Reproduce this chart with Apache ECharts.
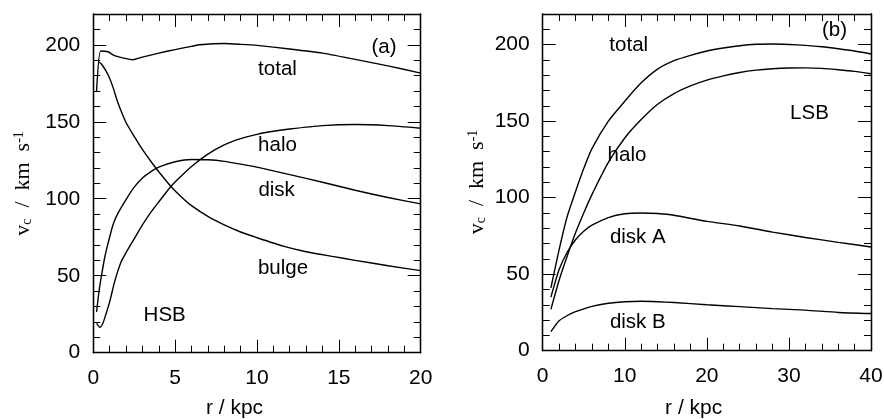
<!DOCTYPE html>
<html><head><meta charset="utf-8">
<script src="https://cdn.jsdelivr.net/npm/echarts@6/dist/echarts.min.js"></script>
<style>html,body{margin:0;padding:0;background:#fff}#c{width:884px;height:419px}</style>
</head><body><div id="c"></div>
<script>
// ---------- Panel (a): HSB, r in kpc ----------
const totalA_r = [0.2, 0.45, 0.9, 1.2, 1.5, 2, 2.4, 3, 4, 5, 6, 6.5, 8, 9, 10, 12, 14, 16, 18, 20];
const totalA_v = [170, 196, 195.5, 193.5, 192.3, 191, 190.3, 192, 194.6, 196.9, 199, 200, 200.8, 200.3, 199.6, 197.3, 194.6, 190.5, 186.3, 181.6];
const bulgeA_r = [0.3, 0.5, 0.9, 1.2, 1.5, 2, 2.5, 3, 3.5, 4, 4.7, 5.4, 6, 7, 8, 9, 10, 11.6, 13, 14.7, 16, 18, 20];
const bulgeA_v = [189, 187.5, 180.5, 172.5, 162.5, 149.5, 140.5, 132, 124.5, 117.5, 108.5, 101, 95.5, 88.5, 83, 78.4, 74.7, 69.2, 65.6, 62.4, 60, 56.5, 53.3];
const diskA_r = [0.2, 0.35, 0.5, 0.7, 0.9, 1.2, 1.5, 2, 2.5, 3, 3.5, 4, 5, 6, 7, 8, 9, 10, 12, 14, 16, 18, 20];
const diskA_v = [26.5, 40, 50, 62, 71, 83, 90.5, 99.5, 107.5, 113.5, 117.5, 120.5, 124, 125.5, 125.3, 124.3, 122.5, 120.5, 115.7, 110.7, 105.5, 100.8, 96.7];
const haloA_r = [0.2, 0.4, 0.6, 0.8, 1.0, 1.3, 1.7, 2.0, 2.5, 3.0, 3.5, 4.0, 4.7, 5.1, 6, 7, 8, 9, 10, 11, 12, 14, 16, 18, 20];
const haloA_v = [19, 16.5, 19.5, 26, 33, 46, 59, 65, 74, 83, 91, 98, 107.5, 112, 121, 129, 135, 139, 141.8, 143.8, 145.3, 147.5, 148.2, 147.5, 145.8];

// ---------- Panel (b): LSB ----------
const rB = [1, 2, 3, 4, 5, 6, 8, 10, 12, 14, 16, 18, 20, 22, 24, 26, 28, 30, 32, 34, 36, 38, 40];
const totalB_v = [41, 66, 88, 104, 119, 132, 150, 163, 175, 184, 189.5, 193, 195.8, 197.8, 199.3, 200.2, 200.4, 200.1, 199.5, 198.6, 197.3, 195.8, 193.9];
const haloB_v = [27, 46, 62, 77, 90, 102, 123, 139, 151, 161, 168, 173, 176.8, 179.6, 181.8, 183.3, 184.2, 184.7, 184.8, 184.5, 183.6, 182.5, 181];
const diskAB_r = [1, 2, 3, 4, 5, 6, 8, 10, 12, 14, 16, 20, 24, 28, 32, 36, 40];
const diskAB_v = [35, 53, 64.5, 72.5, 78, 82, 87, 89.5, 90, 89.6, 88.5, 84.5, 81.5, 77.5, 74, 70.8, 67.8];
const diskBB_r = [1, 2, 3, 4, 6, 8, 10, 12, 14, 16, 20, 24, 28, 32, 36, 40];
const diskBB_v = [12.4, 19.5, 23, 25.5, 29, 31, 32, 32.3, 32, 31.5, 30, 28.8, 27.5, 26.5, 25, 24.3];

// ---------- axis ranges / ticks ----------
const xMaxA = 20, xStepA = 5;
const xMaxB = 40, xStepB = 10;
const yMax = 220, yStep = 50, yMinorStep = 10;

// ---------- text labels (panel, text, r, v) ----------
const labelPanel = [0, 0, 0, 0, 0, 0, 1, 1, 1, 1, 1, 1];
const labelText = ['(a)', 'total', 'halo', 'disk', 'bulge', 'HSB', '(b)', 'total', 'LSB', 'halo', 'disk A', 'disk B'];
const labelR = [17.76, 11.25, 11.25, 11.2, 11.59, 4.36, 35.55, 10.48, 32.5, 10.27, 11.59, 11.59];
const labelV = [198.6, 184.3, 134.6, 105.4, 55.0, 24.2, 209.2, 199.4, 154.8, 127.5, 74.3, 18.75];

const zip = (a, b) => a.map((v, i) => [v, b[i]]);
const BLACK = '#000';
const SANS = 'Liberation Sans, Arial, sans-serif';

function xAx(grid, pos, max, interval, labels) {
  return {
    type: 'value', gridIndex: grid, position: pos, min: 0, max: max, interval: interval,
    axisLine: { show: true, onZero: false, lineStyle: { color: BLACK, width: 1.3 } },
    axisTick: { show: true, inside: true, length: 13, lineStyle: { color: BLACK, width: 1 } },
    minorTick: { show: true, splitNumber: 5, length: 7, lineStyle: { color: BLACK, width: 1 } },
    splitLine: { show: false }, minorSplitLine: { show: false },
    axisLabel: { show: labels, color: BLACK, fontSize: 21, fontFamily: SANS, margin: 15 }
  };
}
function yAx(grid, pos, interval, len, labels) {
  return {
    type: 'value', gridIndex: grid, position: pos, min: 0, max: yMax, interval: interval, offset: 0,
    axisLine: { show: true, onZero: false, lineStyle: { color: BLACK, width: 1.3 } },
    axisTick: { show: true, inside: true, length: len, lineStyle: { color: BLACK, width: 1 } },
    splitLine: { show: false },
    axisLabel: { show: labels, color: BLACK, fontSize: 21, fontFamily: SANS, margin: 13,
      formatter: v => (v % yStep === 0 ? String(v) : '') }
  };
}
function line(xi, yi, data) {
  return { type: 'line', xAxisIndex: xi, yAxisIndex: yi, data: data, showSymbol: false, symbol: 'none',
    smooth: 0.2, silent: true, lineStyle: { color: BLACK, width: 1.4 } };
}

const chart = echarts.init(document.getElementById('c'), null, { renderer: 'canvas' });
chart.setOption({
  animation: false,
  backgroundColor: '#fff',
  grid: [
    { left: 93.3, top: 14, width: 327.4, height: 338.7, outerBoundsMode: 'none', containLabel: false },
    { left: 542.7, top: 14, width: 328.3, height: 336.7, outerBoundsMode: 'none', containLabel: false }
  ],
  xAxis: [
    xAx(0, 'bottom', xMaxA, xStepA, true), xAx(0, 'top', xMaxA, xStepA, false),
    xAx(1, 'bottom', xMaxB, xStepB, true), xAx(1, 'top', xMaxB, xStepB, false)
  ],
  yAxis: [
    yAx(0, 'left', yStep, 13, true), yAx(0, 'left', yMinorStep, 7, false),
    yAx(0, 'right', yStep, 13, false), yAx(0, 'right', yMinorStep, 7, false),
    yAx(1, 'left', yStep, 13, true), yAx(1, 'left', yMinorStep, 7, false),
    yAx(1, 'right', yStep, 13, false), yAx(1, 'right', yMinorStep, 7, false)
  ],
  series: [
    line(0, 0, zip(totalA_r, totalA_v)),
    line(0, 0, zip(bulgeA_r, bulgeA_v)),
    line(0, 0, zip(diskA_r, diskA_v)),
    line(0, 0, zip(haloA_r, haloA_v)),
    line(2, 4, zip(rB, totalB_v)),
    line(2, 4, zip(rB, haloB_v)),
    line(2, 4, zip(diskAB_r, diskAB_v)),
    line(2, 4, zip(diskBB_r, diskBB_v))
  ]
});

const graphics = [];
labelText.forEach((t, i) => {
  const p = labelPanel[i];
  const px = chart.convertToPixel({ xAxisIndex: p === 0 ? 0 : 2, yAxisIndex: p === 0 ? 0 : 4 }, [labelR[i], labelV[i]]);
  graphics.push({ type: 'text', x: px[0], y: px[1], silent: true,
    style: { text: t, fill: BLACK, font: '20.5px ' + SANS, align: 'center', verticalAlign: 'middle' } });
});
// axis titles
[[234.5, 0], [693.7, 2]].forEach(([cx, xi]) => {
  graphics.push({ type: 'text', x: cx, y: 408.5, silent: true,
    style: { text: 'r / kpc', fill: BLACK, font: '21px ' + SANS, align: 'center', verticalAlign: 'middle' } });
});
const SERIF = 'Liberation Serif, Times New Roman, serif';
[[23, 183.5], [477, 182]].forEach(([cx, cy]) => {
  graphics.push({ type: 'text', x: cx, y: cy, rotation: Math.PI / 2, silent: true,
    style: {
      text: '{m|v}{sub|c}{m|  /  km  s}{sup|-1}',
      align: 'center', verticalAlign: 'middle', fill: BLACK,
      rich: {
        m: { fontFamily: SERIF, fontSize: 22, lineHeight: 22, fill: BLACK, color: BLACK },
        sub: { fontFamily: SERIF, fontSize: 14, lineHeight: 8, verticalAlign: 'bottom', fill: BLACK, color: BLACK },
        sup: { fontFamily: SERIF, fontSize: 14, lineHeight: 8, verticalAlign: 'top', fill: BLACK, color: BLACK }
      }
    } });
});
chart.setOption({ graphic: graphics });
</script></body></html>
